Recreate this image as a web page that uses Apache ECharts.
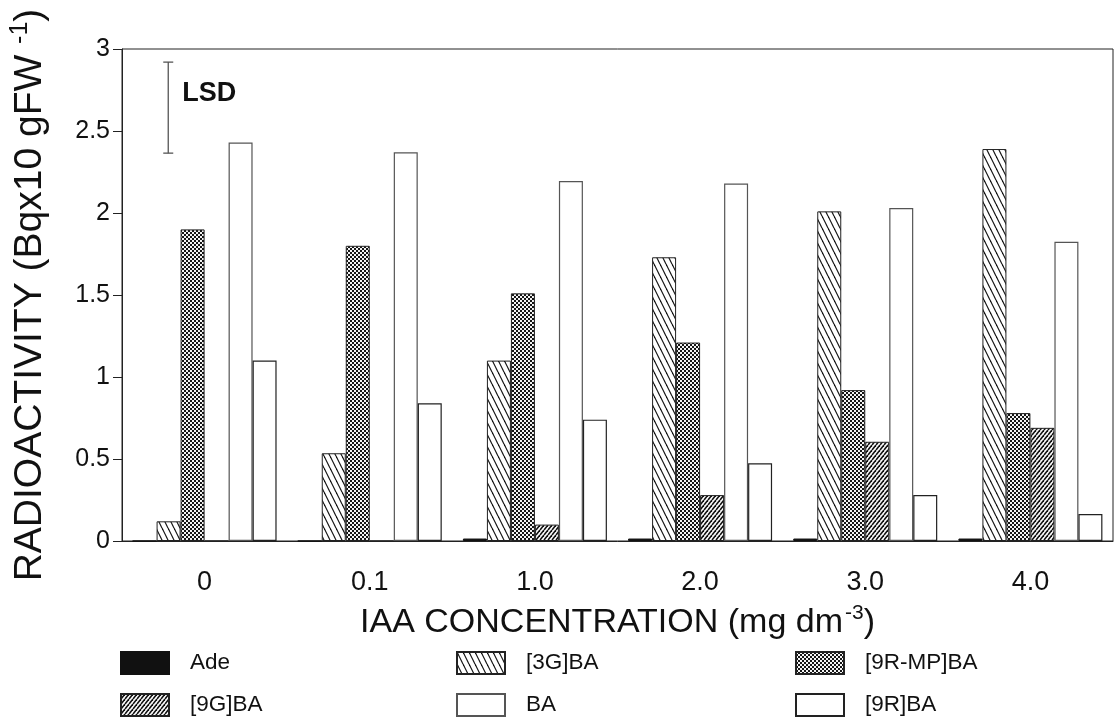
<!DOCTYPE html>
<html>
<head>
<meta charset="utf-8">
<script src="https://cdn.jsdelivr.net/npm/echarts@6/dist/echarts.min.js"></script>
<style>
html,body{margin:0;padding:0;background:#fff;}
#chart{width:1115px;height:726px;}
</style>
</head>
<body>
<div id="chart"></div>
<script>
// ---- data ----
const categories = ['0', '0.1', '1.0', '2.0', '3.0', '4.0'];
const seriesNames = ['Ade', '[3G]BA', '[9R-MP]BA', '[9G]BA', 'BA', '[9R]BA'];
const ade   = [0, 0, 0.015, 0.015, 0.015, 0.015];
const g3ba  = [0.12, 0.535, 1.10, 1.73, 2.01, 2.39];
const r9mp  = [1.90, 1.80, 1.51, 1.21, 0.92, 0.78];
const g9ba  = [0, 0, 0.10, 0.28, 0.605, 0.69];
const ba    = [2.43, 2.37, 2.195, 2.18, 2.03, 1.825];
const r9ba  = [1.10, 0.84, 0.74, 0.474, 0.28, 0.165];
const lsdRange = [2.365, 2.92];   // LSD bar low / high
const lsdX = 0.28;                // position in category units from the left edge
const yTicks = [0, 0.5, 1, 1.5, 2, 2.5, 3];

const FONT = '"Liberation Sans", Arial, Helvetica, sans-serif';

// ---- patterns ----
function hatchCanvas(w, h, dir, lw, bg, fg) {
  const c = document.createElement('canvas');
  c.width = w; c.height = h;
  const ctx = c.getContext('2d');
  ctx.fillStyle = bg; ctx.fillRect(0, 0, w, h);
  ctx.strokeStyle = fg; ctx.lineWidth = lw;
  for (let k = -1; k <= 1; k++) {
    ctx.beginPath();
    if (dir === 'back') { ctx.moveTo(k * w, 0); ctx.lineTo(k * w + w, h); }
    else { ctx.moveTo(k * w, h); ctx.lineTo(k * w + w, 0); }
    ctx.stroke();
  }
  return c;
}
function checkerCanvas() {
  const c = document.createElement('canvas');
  c.width = 4; c.height = 4;
  const ctx = c.getContext('2d');
  ctx.fillStyle = '#151515'; ctx.fillRect(0, 0, 4, 4);
  ctx.fillStyle = '#f4f4f4';
  ctx.fillRect(0, 0, 2, 2);
  ctx.fillRect(2, 2, 2, 2);
  return c;
}
const pat3G = { image: hatchCanvas(6, 12, 'back', 1.2, '#ffffff', '#111111'), repeat: 'repeat' };
const pat9G = { image: hatchCanvas(4, 5, 'fwd', 1.6, '#ffffff', '#111111'), repeat: 'repeat' };
const patMP = { image: checkerCanvas(), repeat: 'repeat' };

const styles = [
  { color: '#111111', borderColor: '#111111', borderWidth: 1 },
  { color: pat3G, borderColor: '#222', borderWidth: 1 },
  { color: patMP, borderColor: '#222', borderWidth: 1 },
  { color: pat9G, borderColor: '#222', borderWidth: 1 },
  { color: '#ffffff', borderColor: '#555', borderWidth: 1.2 },
  { color: '#ffffff', borderColor: '#222', borderWidth: 1.2 }
];
const values = [ade, g3ba, r9mp, g9ba, ba, r9ba];

const barSeries = seriesNames.map((name, i) => ({
  name: name,
  type: 'bar',
  xAxisIndex: 0,
  yAxisIndex: 0,
  data: values[i],
  barWidth: 24,
  barGap: '0%',
  itemStyle: styles[i],
  emphasis: { disabled: true },
  animation: false
}));

const lsdSeries = {
  type: 'custom',
  xAxisIndex: 1,
  yAxisIndex: 0,
  animation: false,
  silent: true,
  data: [[lsdX, lsdRange[0], lsdRange[1]]],
  renderItem: function (params, api) {
    const x = api.value(0);
    const top = api.coord([x, api.value(2)]);
    const bot = api.coord([x, api.value(1)]);
    const ls = { stroke: '#555', lineWidth: 1.3 };
    return {
      type: 'group',
      children: [
        { type: 'line', shape: { x1: top[0], y1: top[1], x2: bot[0], y2: bot[1] }, style: ls },
        { type: 'line', shape: { x1: top[0] - 5, y1: top[1], x2: top[0] + 5, y2: top[1] }, style: ls },
        { type: 'line', shape: { x1: bot[0] - 5, y1: bot[1], x2: bot[0] + 5, y2: bot[1] }, style: ls },
        { type: 'text', style: { text: 'LSD', x: top[0] + 14, y: top[1] + 31, verticalAlign: 'middle', align: 'left',
            font: 'bold 27px ' + FONT, fill: '#111' } }
      ]
    };
  }
};

function legendCol(left, data) {
  return {
    orient: 'vertical', left: left, top: 651, padding: 0,
    itemWidth: 48, itemHeight: 22, itemGap: 18, icon: 'rect',
    selectedMode: false, data: data,
    textStyle: { fontSize: 22.5, color: '#111', fontFamily: FONT, padding: [0, 0, 0, 16] }
  };
}

const chart = echarts.init(document.getElementById('chart'), null, { renderer: 'canvas' });
chart.setOption({
  backgroundColor: '#ffffff',
  animation: false,
  grid: { left: 122, right: 2, top: 49, bottom: 185, show: true, borderColor: '#222', borderWidth: 1, containLabel: false },
  legend: [
    legendCol(120, ['Ade', '[9G]BA']),
    legendCol(456, ['[3G]BA', 'BA']),
    legendCol(795, ['[9R-MP]BA', '[9R]BA'])
  ],
  xAxis: [
    {
      type: 'category', data: categories, position: 'bottom',
      axisLine: { lineStyle: { color: '#222', width: 1 } },
      axisTick: { alignWithLabel: true, length: 13, lineStyle: { color: '#222' } },
      axisLabel: { fontSize: 27, color: '#111', fontFamily: FONT, margin: 28 },
      splitLine: { show: false },
      name: '{a|IAA CONCENTRATION (mg dm}{sup|-3}{a|)}',
      nameLocation: 'middle', nameGap: 62,
      nameTextStyle: {
        rich: {
          a: { fontSize: 34, fontFamily: FONT, color: '#111', lineHeight: 37, verticalAlign: 'bottom' },
          sup: { fontSize: 21, fontFamily: FONT, color: '#111', verticalAlign: 'top', padding: [0, 0, 0, 2] }
        }
      }
    },
    { type: 'value', min: 0, max: categories.length, show: false }
  ],
  yAxis: {
    type: 'value', min: yTicks[0], max: yTicks[yTicks.length - 1], interval: 0.5,
    axisLine: { show: true, lineStyle: { color: '#222', width: 1 } },
    axisTick: { show: true, length: 9, lineStyle: { color: '#222' } },
    axisLabel: { fontSize: 25, color: '#111', fontFamily: FONT, margin: 12 },
    splitLine: { show: false },
    name: '{a|RADIOACTIVITY (Bqx10 gFW }{sup|-1}{a|)}',
    nameLocation: 'middle', nameRotate: 90, nameGap: 72,
    nameTextStyle: {
      rich: {
        a: { fontSize: 39, fontFamily: FONT, color: '#111', lineHeight: 42, verticalAlign: 'bottom' },
        sup: { fontSize: 25, fontFamily: FONT, color: '#111', verticalAlign: 'top' }
      }
    }
  },
  series: barSeries.concat([lsdSeries])
});
</script>
</body>
</html>
